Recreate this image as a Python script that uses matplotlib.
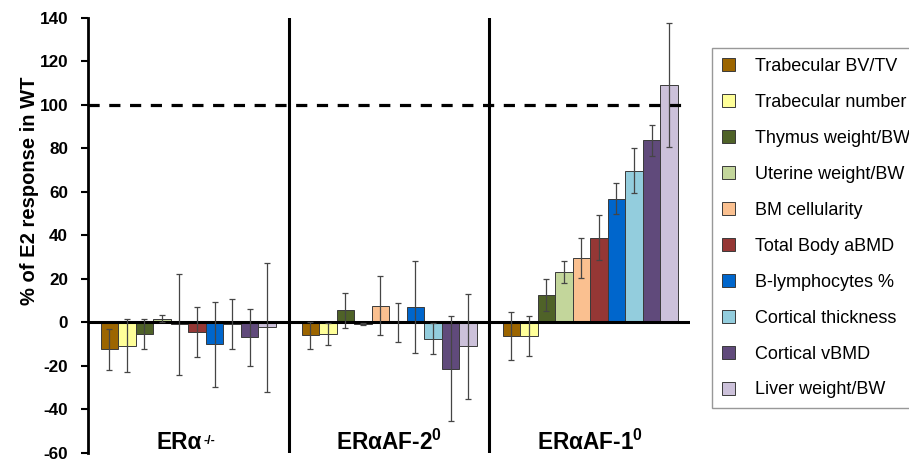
import matplotlib.pyplot as plt
import numpy as np

plt.rcParams['font.family'] = 'Liberation Sans'
plt.rcParams['axes.unicode_minus'] = False
plt.rcParams['mathtext.fontset'] = 'custom'
plt.rcParams['mathtext.rm'] = 'Liberation Sans'
plt.rcParams['mathtext.bf'] = 'Liberation Sans:bold'

groups = ['ERα', 'ERαAF-2$^{\\mathbf{0}}$', 'ERαAF-1$^{\\mathbf{0}}$']
ko_sup = '-/-'
measures = ['Trabecular BV/TV', 'Trabecular number', 'Thymus weight/BW', 'Uterine weight/BW',
            'BM cellularity', 'Total Body aBMD', 'B-lymphocytes %', 'Cortical thickness',
            'Cortical vBMD', 'Liver weight/BW']
colors = ['#9c6500', '#ffff99', '#4f6228', '#c3d69b', '#fac090',
          '#953735', '#0066cc', '#93cddd', '#604a7b', '#ccc1da']

# mean and error (% of E2 response in WT) per group, one value per measure
ko_mean = [-12.4, -10.6, -5.2, 1.8, -0.8, -4.4, -10.0, -0.5, -6.8, -2.3]
ko_err = [9.5, 12.0, 7.0, 1.5, 23.2, 11.3, 19.5, 11.5, 13.2, 29.7]
af2_mean = [-5.8, -5.2, 5.6, -0.8, 7.8, 0.0, 7.2, -7.4, -21.3, -11.0]
af2_err = [6.2, 5.0, 8.0, 0.5, 13.5, 9.0, 21.2, 7.3, 24.2, 24.0]
af1_mean = [-6.3, -6.3, 12.6, 23.2, 29.7, 39.0, 57.0, 69.8, 83.7, 109.0]
af1_err = [11.0, 9.2, 7.2, 5.2, 9.3, 10.3, 7.3, 10.3, 7.2, 28.5]

means = [ko_mean, af2_mean, af1_mean]
errs = [ko_err, af2_err, af1_err]

fig = plt.figure(figsize=(9.09, 4.61), dpi=100)
ax = fig.add_axes([0.0963, 0.0174, 0.6633, 0.9436])

w = 0.0872
for j, name in enumerate(measures):
    x = np.arange(3) + 0.065 + (j + 0.5) * w
    m = [g[j] for g in means]
    e = [g[j] for g in errs]
    ax.bar(x, m, w, color=colors[j], edgecolor='#3a3a3a', linewidth=0.7, label=name, zorder=2)
    ax.errorbar(x, m, yerr=e, fmt='none', ecolor='#454545', elinewidth=0.9,
                capsize=2.5, capthick=0.9, zorder=4)

ax.axhline(0, color='k', lw=2.2, zorder=3)
ax.axhline(100, color='k', lw=2.3, dashes=(3.5, 3), xmax=0.99, zorder=3)
for s in [1, 2]:
    ax.axvline(s, color='k', lw=2.2, zorder=3)

ax.set_xlim(0, 3)
ax.set_ylim(-60, 140)
ax.set_yticks(np.arange(-60, 141, 20))
ax.set_xticks([])
for sp in ['top', 'right', 'bottom']:
    ax.spines[sp].set_visible(False)
ax.spines['left'].set_linewidth(2)
ax.tick_params(axis='y', direction='out', length=5, width=1.5, pad=9, labelsize=12.3)
for t in ax.get_yticklabels():
    t.set_fontweight('bold')
ax.set_ylabel('% of E2 response in WT', fontsize=14.5, fontweight='bold')
ax.yaxis.set_label_coords(-0.08, 0.603)

xs = [0.455, 1.5, 2.5]
for i, g in enumerate(groups):
    t = ax.text(xs[i], -55.3, g, ha='center', va='center', fontsize=16.3, fontweight='bold')
    if i == 0:
        ax.annotate(ko_sup, xy=(1, 1), xycoords=t, xytext=(1, -2.5), textcoords='offset points',
                    ha='left', va='top', fontsize=9, fontweight='bold')

leg = fig.legend(loc='upper left', bbox_to_anchor=(0.783, 0.896), fontsize=13, frameon=True,
                 fancybox=False, edgecolor='#7f7f7f', borderaxespad=0, borderpad=0.55,
                 labelspacing=1.05, handlelength=0.75, handleheight=0.75, handletextpad=1.1)
leg.get_frame().set_linewidth(1)

plt.savefig('out.png', dpi=100)
